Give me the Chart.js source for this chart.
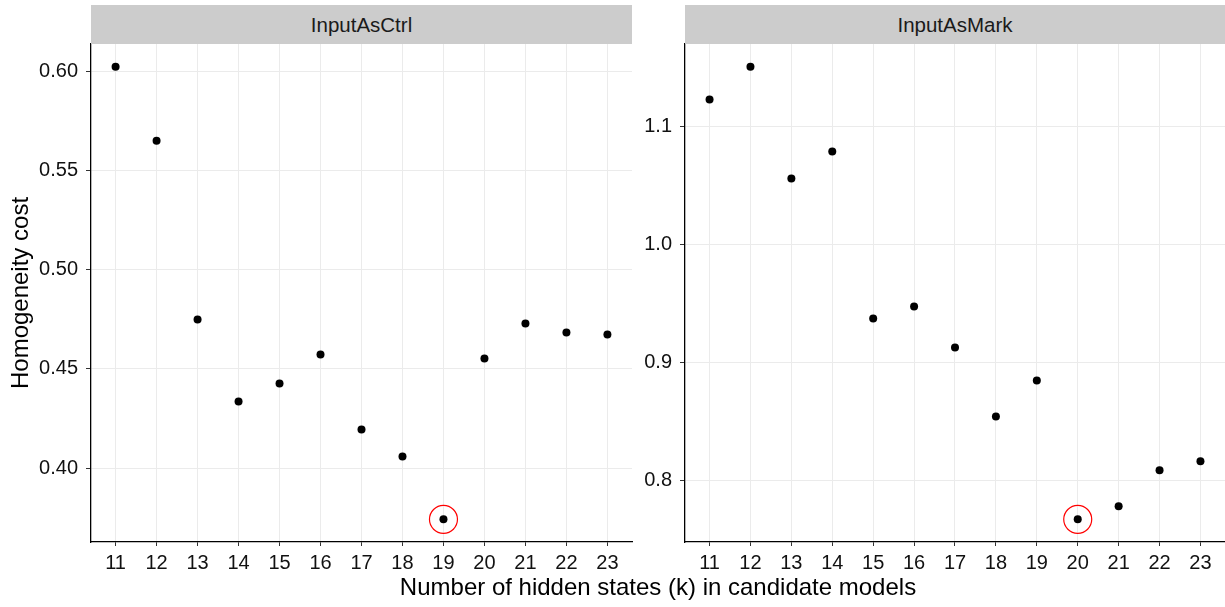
<!DOCTYPE html>
<html>
<head>
<meta charset="utf-8">
<script src="https://cdn.jsdelivr.net/npm/chart.js@4.4.1/dist/chart.umd.min.js"></script>
<style>
  html, body { margin:0; padding:0; background:#fff; }
  #wrap { position:relative; width:1225px; height:607px; background:#fff; overflow:hidden; font-family:"Liberation Sans", Arial, Helvetica, sans-serif; }
  .panel { position:absolute; top:0; height:607px; }
  .strip { position:absolute; background:#cccccc; color:#1a1a1a; font-size:20.5px; display:flex; align-items:center; justify-content:center; }
  #xtitle { position:absolute; left:91px; width:1134px; top:573px; text-align:center; font-size:24px; color:#000; }
  #ytitle { position:absolute; left:20px; top:293px; width:300px; margin-left:-150px; text-align:center; font-size:24px; color:#000; transform:translate(0,-50%) rotate(-90deg); line-height:28px; }
</style>
</head>
<body>
<div id="wrap">
  <div class="panel" style="left:0;width:640px;"><canvas id="c1" width="640" height="607"></canvas></div>
  <div class="panel" style="left:640px;width:585px;"><canvas id="c2" width="585" height="607"></canvas></div>
  <div id="xtitle">Number of hidden states (k) in candidate models</div>
  <div id="ytitle">Homogeneity cost</div>
</div>
<script>
// ---- data ----
const kValues = [11, 12, 13, 14, 15, 16, 17, 18, 19, 20, 21, 22, 23];
const ctrlCost = [0.6024, 0.5651, 0.4749, 0.4336, 0.4427, 0.4573, 0.4195, 0.4059, 0.3742, 0.4553, 0.4729, 0.4684, 0.4674];
const markCost = [1.1229, 1.1508, 1.0559, 1.0788, 0.9373, 0.9475, 0.9127, 0.8542, 0.8847, 0.7669, 0.7780, 0.8085, 0.8161];
const panelNames = ["InputAsCtrl", "InputAsMark"];
const highlightK = [19, 20];
const ctrlYTicks = [0.40, 0.45, 0.50, 0.55, 0.60];
const ctrlYLabels = ["0.40", "0.45", "0.50", "0.55", "0.60"];
const markYTicks = [0.8, 0.9, 1.0, 1.1];
const markYLabels = ["0.8", "0.9", "1.0", "1.1"];

const FONT = '"Liberation Sans", Arial, Helvetica, sans-serif';

function expand(arr, f) {
  const lo = Math.min(...arr), hi = Math.max(...arr), r = hi - lo;
  return [lo - f * r, hi + f * r];
}

function noPad(s) { s.paddingLeft = 0; s.paddingRight = 0; s.paddingTop = 0; s.paddingBottom = 0; }

function makeChart(canvasId, values, yTicks, yLabels, hk, yWidth, padRight, canvasLeft, name) {
  const [ymin, ymax] = expand(values, 0.05);
  const [xmin, xmax] = expand(kValues, 0.05);
  const pts = kValues.map((k, i) => ({ x: k, y: values[i] }));
  const hiIdx = kValues.indexOf(hk);
  const hiPts = [{ x: kValues[hiIdx], y: values[hiIdx] }];
  const chart = new Chart(document.getElementById(canvasId), {
    type: 'scatter',
    data: {
      datasets: [
        { data: pts, pointRadius: 4, pointBackgroundColor: '#000', pointBorderWidth: 0, pointHoverRadius: 4, clip: false },
        { data: hiPts, pointRadius: 14, pointBackgroundColor: 'rgba(0,0,0,0)', pointBorderColor: '#ff0000', pointBorderWidth: 1.2, pointHoverRadius: 14, clip: false }
      ]
    },
    options: {
      responsive: false,
      animation: false,
      events: [],
      layout: { autoPadding: false, padding: { top: 44, right: padRight, left: 0, bottom: 0 } },
      plugins: { legend: { display: false }, tooltip: { enabled: false }, title: { display: false } },
      scales: {
        x: {
          type: 'linear', min: xmin, max: xmax,
          afterBuildTicks: s => { s.ticks = kValues.map(v => ({ value: v })); },
          afterFit: s => { s.height = 65; noPad(s); },
          grid: { color: '#ebebeb', lineWidth: 1, tickColor: '#333', tickLength: 4 },
          border: { color: '#000', width: 1.3 },
          ticks: { color: '#111', font: { family: FONT, size: 20 }, padding: 5, maxRotation: 0, autoSkip: false, callback: v => String(v) }
        },
        y: {
          type: 'linear', min: ymin, max: ymax,
          afterBuildTicks: s => { s.ticks = yTicks.map(v => ({ value: v })); },
          afterFit: s => { s.width = yWidth; noPad(s); },
          grid: { color: '#ebebeb', lineWidth: 1, tickColor: '#333', tickLength: 5 },
          border: { color: '#000', width: 1.3 },
          ticks: { color: '#111', font: { family: FONT, size: 20 }, padding: 8, autoSkip: false,
            callback: v => { const i = yTicks.findIndex(t => Math.abs(t - v) < 1e-9); return i >= 0 ? yLabels[i] : ''; } }
        }
      }
    }
  });
  const a = chart.chartArea;
  const strip = document.createElement('div');
  strip.className = 'strip';
  strip.style.left = (canvasLeft + a.left) + 'px';
  strip.style.width = (a.right - a.left) + 'px';
  strip.style.top = '5px';
  strip.style.height = (a.top - 5) + 'px';
  strip.textContent = name;
  document.getElementById('wrap').appendChild(strip);
  return chart;
}

makeChart('c1', ctrlCost, ctrlYTicks, ctrlYLabels, highlightK[0], 91, 8, 0, panelNames[0]);
makeChart('c2', markCost, markYTicks, markYLabels, highlightK[1], 45, 0, 640, panelNames[1]);
</script>
</body>
</html>
